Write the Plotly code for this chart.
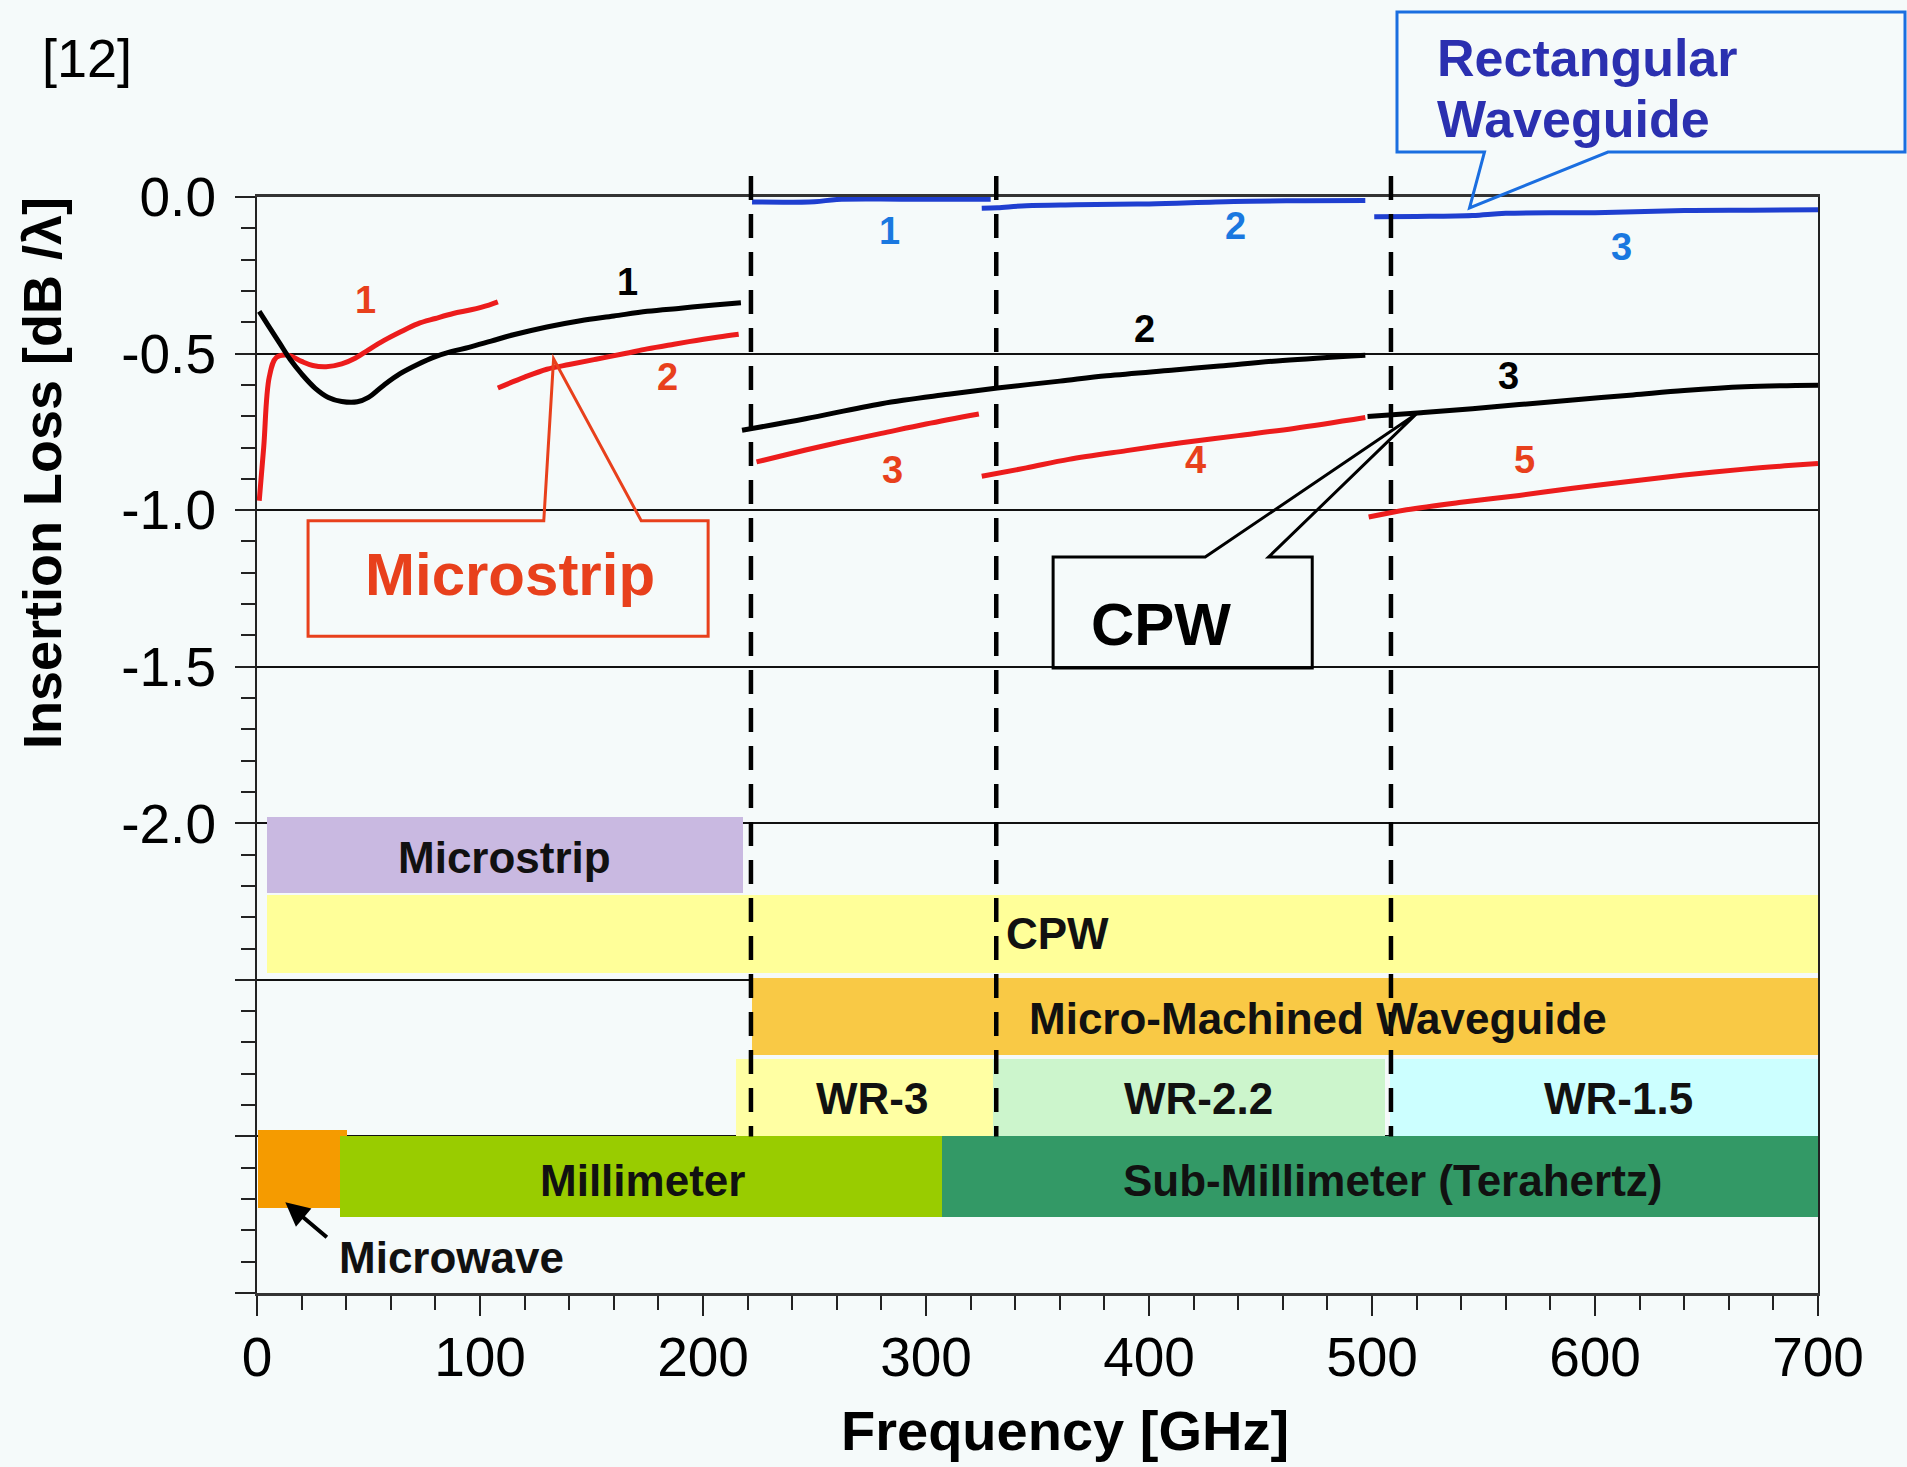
import plotly.graph_objects as go

# ---------------- data ----------------
# Microstrip curves (red)
ms1_x = [1, 3, 5.5, 8.7, 14, 20, 25, 31, 38, 44, 50, 57, 64, 72, 80, 88, 96, 104, 108]
ms1_y = [-0.97, -0.80, -0.575, -0.512, -0.505, -0.525, -0.538, -0.542, -0.533, -0.515,
         -0.488, -0.458, -0.432, -0.405, -0.388, -0.372, -0.36, -0.345, -0.335]
ms2_x = [108, 120, 130, 140, 152, 165, 175, 187, 197, 207, 216]
ms2_y = [-0.61, -0.575, -0.55, -0.535, -0.518, -0.5, -0.485, -0.47, -0.458, -0.447, -0.438]
ms3_x = [224, 246, 262, 280, 300, 323.7]
ms3_y = [-0.846, -0.808, -0.782, -0.755, -0.725, -0.693]
ms4_x = [325, 345, 364, 390, 414.5, 440, 465, 497]
ms4_y = [-0.892, -0.865, -0.838, -0.81, -0.785, -0.762, -0.739, -0.704]
ms5_x = [498.5, 515.5, 540, 566, 590, 617, 640, 667, 690, 700]
ms5_y = [-1.022, -0.999, -0.975, -0.953, -0.93, -0.907, -0.888, -0.869, -0.856, -0.851]

# CPW curves (black)
cpw1_x = [1, 5, 10, 15, 20, 26, 32, 38, 45, 50, 57, 64, 72, 80, 87, 95, 105, 115, 130,
          145, 160, 175, 190, 205, 217]
cpw1_y = [-0.365, -0.41, -0.465, -0.52, -0.565, -0.61, -0.64, -0.653, -0.654, -0.64, -0.6,
          -0.565, -0.535, -0.51, -0.494, -0.48, -0.46, -0.44, -0.415, -0.395, -0.38, -0.365,
          -0.355, -0.345, -0.338]
cpw2_x = [217.5, 246, 280, 310, 332, 360, 381, 410, 431.6, 460, 497]
cpw2_y = [-0.745, -0.708, -0.66, -0.63, -0.61, -0.588, -0.571, -0.553, -0.54, -0.522, -0.505]
cpw3_x = [498, 522, 545, 566, 590, 617, 640, 667, 690, 700]
cpw3_y = [-0.701, -0.689, -0.676, -0.663, -0.648, -0.632, -0.618, -0.606, -0.602, -0.601]

# Rectangular waveguide curves (blue)
rw1_x = [222, 250, 260, 290, 329]
rw1_y = [-0.016, -0.015, -0.008, -0.007, -0.007]
rw2_x = [325, 332, 345, 367, 400, 438, 470, 497]
rw2_y = [-0.036, -0.034, -0.028, -0.025, -0.022, -0.014, -0.012, -0.011]
rw3_x = [501, 520, 545, 560, 600, 640, 670, 700]
rw3_y = [-0.063, -0.062, -0.059, -0.052, -0.05, -0.043, -0.042, -0.041]

# Curve number labels
red_lbl = ["1", "2", "3", "4", "5"]
red_lbl_x = [48.5, 184, 285, 421, 568.6]
red_lbl_y = [-0.33, -0.575, -0.871, -0.839, -0.839]
blk_lbl = ["1", "2", "3"]
blk_lbl_x = [166, 398, 561]
blk_lbl_y = [-0.272, -0.42, -0.571]
blu_lbl = ["1", "2", "3"]
blu_lbl_x = [283.5, 439, 612]
blu_lbl_y = [-0.109, -0.093, -0.159]

# Frequency bands
band_names = ["Microstrip", "CPW", "Micro-Machined Waveguide", "WR-3", "WR-2.2", "WR-1.5",
              "Microwave", "Millimeter", "Sub-Millimeter (Terahertz)"]
band_start = [4.5, 4.5, 222, 215, 330, 508, 0.5, 37, 307]
band_end = [218, 700, 701, 330, 506, 701, 40.5, 307, 704]
band_top = [-1.98, -2.23, -2.495, -2.752, -2.752, -2.752, -2.978, -3.0, -3.0]
band_bottom = [-2.223, -2.479, -2.739, -3.0, -3.0, -3.0, -3.227, -3.257, -3.257]
band_colors = ["#c9b9e1", "#ffff99", "#f9c945", "#ffffa3", "#ccf5cc", "#ccffff",
               "#f59b00", "#99cc00", "#339966"]
band_lbl_x = [111, 335, 476, 276, 422, 610.6, None, 172.8, 509]
band_lbl_y = [-2.11, -2.351, -2.623, -2.879, -2.879, -2.879, None, -3.14, -3.14]

# Waveguide band boundaries (dashed lines)
boundary_x = [221.5, 331.5, 508.5]

x_ticks = [0, 100, 200, 300, 400, 500, 600, 700]
y_ticks = [0, -0.5, -1.0, -1.5, -2.0, -2.5, -3.0, -3.5]
y_ticktext = ["0.0", "-0.5", "-1.0", "-1.5", "-2.0", "", "", ""]

# ---------------- layout geometry ----------------
W, H = 1907, 1467
L, R, T, B = 257, 1818, 197, 1293
BG = "#f5fafa"
FONT = "Liberation Sans, Arial, sans-serif"
RED = "#ec1c1c"
RED_TXT = "#e8401c"
BLUE = "#1f3fd0"
BLUE_TXT = "#1a78e0"


def pp(px, py):
    """page pixel -> paper coords"""
    return (px - L) / (R - L), (B - py) / (B - T)


def ypaper(v):
    return (v + 3.5) / 3.5


fig = go.Figure()

# bands as horizontal bars
fig.add_trace(go.Bar(
    orientation="h",
    y=[(t + b) / 2 for t, b in zip(band_top, band_bottom)],
    x=[e - s for s, e in zip(band_start, band_end)],
    base=band_start,
    width=[t - b for t, b in zip(band_top, band_bottom)],
    marker=dict(color=band_colors, line=dict(width=0)),
    hoverinfo="skip", showlegend=False,
))

curves = [
    (ms1_x, ms1_y, RED), (ms2_x, ms2_y, RED), (ms3_x, ms3_y, RED), (ms4_x, ms4_y, RED),
    (ms5_x, ms5_y, RED),
    (cpw1_x, cpw1_y, "black"), (cpw2_x, cpw2_y, "black"), (cpw3_x, cpw3_y, "black"),
    (rw1_x, rw1_y, BLUE), (rw2_x, rw2_y, BLUE), (rw3_x, rw3_y, BLUE),
]
for cx, cy, col in curves:
    fig.add_trace(go.Scatter(x=cx, y=cy, mode="lines", line=dict(color=col, width=5),
                             line_shape="spline", hoverinfo="skip", showlegend=False))

annotations = []


def ann(x, y, text, size, color, xref="x", yref="y", xanchor="center", yanchor="middle",
        **kw):
    d = dict(x=x, y=y, text=text, showarrow=False, xref=xref, yref=yref,
             xanchor=xanchor, yanchor=yanchor,
             font=dict(family=FONT, size=size, color=color))
    d.update(kw)
    annotations.append(d)


for txt, ax_, ay_ in zip(red_lbl, red_lbl_x, red_lbl_y):
    ann(ax_, ay_, "<b>%s</b>" % txt, 38, RED_TXT)
for txt, ax_, ay_ in zip(blk_lbl, blk_lbl_x, blk_lbl_y):
    ann(ax_, ay_, "<b>%s</b>" % txt, 38, "black")
for txt, ax_, ay_ in zip(blu_lbl, blu_lbl_x, blu_lbl_y):
    ann(ax_, ay_, "<b>%s</b>" % txt, 38, BLUE_TXT)

for name, lx, ly in zip(band_names, band_lbl_x, band_lbl_y):
    if lx is None:
        continue
    ann(lx, ly, "<b>%s</b>" % name, 44, "#111111",
        xanchor="left" if name == "CPW" else "center")

# Microwave label + arrow
ann(87.4, -3.386, "<b>Microwave</b>", 44, "#111111")
annotations.append(dict(x=12.7, y=-3.21, ax=32, ay=-3.326, axref="x", ayref="y",
                        xref="x", yref="y", text="", showarrow=True, arrowhead=2,
                        arrowsize=1.2, arrowwidth=4, arrowcolor="black"))

# callout texts
ann(113.4, -1.205, "<b>Microstrip</b>", 60, RED_TXT)
ann(405.6, -1.364, "<b>CPW</b>", 60, "black")
px_, py_ = pp(1435, 58)
ann(px_, py_, "<b>Rectangular</b>", 52, "#2b30b0", xref="paper", yref="paper", xanchor="left")
px_, py_ = pp(1435, 119)
ann(px_, py_, "<b>Waveguide</b>", 52, "#2b30b0", xref="paper", yref="paper", xanchor="left")

# axis titles and reference tag
px_, py_ = pp(42, 473)
ann(px_, py_, "<b>Insertion Loss [dB /λ]</b>", 54, "black", xref="paper", yref="paper",
    textangle=-90)
px_, py_ = pp(1065, 1430)
ann(px_, py_, "<b>Frequency [GHz]</b>", 56, "black", xref="paper", yref="paper")
px_, py_ = pp(87, 58)
ann(px_, py_, "[12]", 54, "black", xref="paper", yref="paper")

shapes = []
for bx in boundary_x:
    shapes.append(dict(type="line", xref="x", yref="paper", x0=bx, x1=bx,
                       y0=ypaper(0.067), y1=ypaper(-3.0),
                       line=dict(color="black", width=4.5, dash="24px,14px"), layer="above"))

# Microstrip callout
shapes.append(dict(type="path", xref="x", yref="y",
                   path="M 22.9,-1.034 L 128.6,-1.034 L 133,-0.517 L 172.3,-1.034 "
                        "L 202.3,-1.034 L 202.3,-1.403 L 22.9,-1.403 Z",
                   line=dict(color=RED_TXT, width=3), layer="above"))
# CPW callout
shapes.append(dict(type="path", xref="x", yref="y",
                   path="M 357,-1.150 L 425.2,-1.150 L 520,-0.692 L 453.6,-1.150 "
                        "L 473.2,-1.150 L 473.2,-1.504 L 357,-1.504 Z",
                   line=dict(color="black", width=3), layer="above"))
# Rectangular waveguide callout (page geometry)
pts = [(1397, 12), (1905, 12), (1905, 152), (1608, 152), (1469.5, 208), (1484.5, 152), (1397, 152)]
ppts = [pp(a, b) for a, b in pts]
path = "M " + " L ".join("%f,%f" % p for p in ppts) + " Z"
shapes.append(dict(type="path", xref="paper", yref="paper", path=path,
                   line=dict(color="#1a6ee0", width=3), layer="above"))

fig.update_layout(
    width=W, height=H, autosize=False,
    margin=dict(l=L, r=W - R, t=T, b=H - B, pad=0),
    paper_bgcolor=BG, plot_bgcolor=BG,
    barmode="overlay", bargap=0,
    showlegend=False,
    font=dict(family=FONT, color="black"),
    annotations=annotations,
    shapes=shapes,
    xaxis=dict(range=[0, 700], tickvals=x_ticks, ticks="outside", ticklen=20, tickwidth=2,
               tickcolor="#222", showgrid=False, zeroline=False, ticklabelstandoff=-6,
               showline=True, linewidth=3, linecolor="#333", mirror=True,
               tickfont=dict(family=FONT, size=55, color="black"),
               minor=dict(dtick=20, ticks="outside", ticklen=14, tickwidth=2, tickcolor="#222",
                          showgrid=False)),
    yaxis=dict(range=[-3.5, 0], tickvals=y_ticks, ticktext=y_ticktext, ticks="outside",
               ticklen=20, tickwidth=2, tickcolor="#222", ticklabelstandoff=8,
               showgrid=True, gridcolor="#111", gridwidth=1.5, zeroline=False,
               showline=True, linewidth=2, linecolor="#222", mirror=True,
               tickfont=dict(family=FONT, size=55, color="black"),
               minor=dict(dtick=0.1, tick0=0, ticks="outside", ticklen=14, tickwidth=2,
                          tickcolor="#222", showgrid=False)),
)

fig.write_html("out.html", config={"displayModeBar": False},
               post_script="document.body.style.margin='0';document.body.style.overflow='hidden';")
